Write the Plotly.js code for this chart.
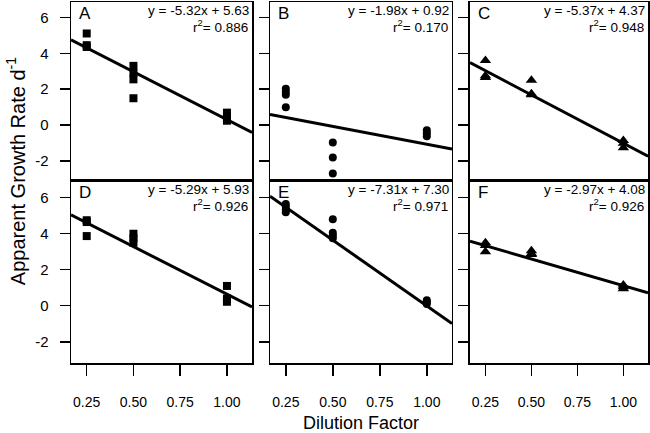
<!DOCTYPE html>
<html><head><meta charset="utf-8">
<script src="https://cdn.plot.ly/plotly-3.0.1.min.js"></script>
<style>html,body{margin:0;padding:0;background:#fff}#chart{width:650px;height:433px}</style>
</head><body><div id="chart"></div>
<script>
// ---- data ----
const panelLabels = ['A', 'B', 'C', 'D', 'E', 'F'];

const dilutionA = [0.25, 0.25, 0.25, 0.5, 0.5, 0.5, 0.5, 1.0, 1.0, 1.0];
const growthA   = [5.10, 4.45, 4.35, 3.30, 2.90, 2.55, 1.50, 0.70, 0.45, 0.25];

const dilutionB = [0.25, 0.25, 0.25, 0.25, 0.5, 0.5, 0.5, 1.0, 1.0, 1.0];
const growthB   = [2.03, 1.85, 1.70, 1.00, -0.96, -1.79, -2.68, -0.28, -0.45, -0.62];

const dilutionC = [0.25, 0.25, 0.25, 0.5, 0.5, 0.5, 1.0, 1.0, 1.0];
const growthC   = [3.60, 2.75, 2.65, 2.50, 1.75, 1.70, -0.85, -1.00, -1.25];

const dilutionD = [0.25, 0.25, 0.25, 0.5, 0.5, 0.5, 1.0, 1.0, 1.0];
const growthD   = [4.75, 4.65, 3.87, 4.00, 3.75, 3.50, 1.10, 0.40, 0.22];

const dilutionE = [0.25, 0.25, 0.25, 0.25, 0.5, 0.5, 0.5, 0.5, 1.0, 1.0, 1.0];
const growthE   = [5.65, 5.50, 5.35, 5.20, 4.80, 4.05, 3.90, 3.75, 0.30, 0.20, 0.10];

const dilutionF = [0.25, 0.25, 0.25, 0.5, 0.5, 0.5, 1.0, 1.0, 1.0];
const growthF   = [3.50, 3.35, 3.00, 3.05, 2.90, 2.85, 1.15, 1.05, 0.95];

const slopes     = [-5.32, -1.98, -5.37, -5.29, -7.31, -2.97];
const intercepts = [5.63, 0.92, 4.37, 5.93, 7.30, 4.08];
const rSquared   = [0.886, 0.170, 0.948, 0.926, 0.971, 0.926];

const xTickVals = [0.25, 0.5, 0.75, 1.0];
const xTickText = ['0.25', '0.50', '0.75', '1.00'];
const yTickVals = [-2, 0, 2, 4, 6];
const yTickText = ['-2', '0', '2', '4', '6'];

const xTitle = 'Dilution Factor';
const yTitle = 'Apparent Growth Rate d<sup>-1</sup>';

// ---- styling / layout ----
const dilutions = [dilutionA, dilutionB, dilutionC, dilutionD, dilutionE, dilutionF];
const growths = [growthA, growthB, growthC, growthD, growthE, growthF];
const symbols = ['square', 'circle', 'triangle-up', 'square', 'circle', 'triangle-up'];
const markerSizes = [8, 8, 10, 8, 8, 10];
const FONT = 'Liberation Sans, Arial, Helvetica, sans-serif';

const xRange = [0.166, 1.134];
const yRanges = [[-3.10, 6.85], [-3.18, 6.93]];
const colDomains = [[0, 0.3137], [0.3449, 0.6603], [0.6915, 1]];
const rowDomains = [[0.5042, 1], [0, 0.5042]];

const traces = [];
const layout = {
  width: 650, height: 433,
  margin: {l: 71, r: 2, t: 2, b: 70},
  paper_bgcolor: '#fff', plot_bgcolor: '#fff',
  showlegend: false,
  font: {family: FONT, color: '#000'},
  annotations: []
};

for (let i = 0; i < 6; i++) {
  const row = i < 3 ? 0 : 1;
  const col = i % 3;
  const xa = 'x' + (i + 1), ya = 'y' + (i + 1);
  const xKey = 'xaxis' + (i === 0 ? '' : i + 1);
  const yKey = 'yaxis' + (i === 0 ? '' : i + 1);

  traces.push({
    type: 'scatter', mode: 'markers', xaxis: xa, yaxis: ya,
    x: dilutions[i], y: growths[i],
    marker: {symbol: symbols[i], size: markerSizes[i], color: '#000'},
    hoverinfo: 'skip'
  });
  traces.push({
    type: 'scatter', mode: 'lines', xaxis: xa, yaxis: ya,
    x: xRange, y: xRange.map(v => slopes[i] * v + intercepts[i]),
    line: {color: '#000', width: 3},
    hoverinfo: 'skip'
  });

  layout[xKey] = {
    domain: colDomains[col], anchor: ya, range: xRange,
    showline: true, mirror: true, linecolor: '#000', linewidth: 1.5,
    showgrid: false, zeroline: false,
    ticks: row === 1 ? 'outside' : '', ticklen: 11, tickwidth: 1.5, tickcolor: '#000',
    tickvals: xTickVals, ticktext: xTickText,
    showticklabels: row === 1,
    ticklabelstandoff: 15,
    tickfont: {size: 14, family: FONT, color: '#000'}
  };
  layout[yKey] = {
    domain: rowDomains[row], anchor: xa, range: yRanges[row],
    showline: true, mirror: true, linecolor: '#000', linewidth: 1.5,
    showgrid: false, zeroline: false,
    ticks: 'outside', ticklen: 10, tickwidth: 1.5, tickcolor: '#000',
    tickvals: yTickVals, ticktext: yTickText,
    showticklabels: col === 0,
    ticklabelstandoff: 8,
    tickfont: {size: 15, family: FONT, color: '#000'}
  };

  layout.annotations.push({
    xref: xa + ' domain', yref: ya + ' domain', x: 0, y: 1,
    xanchor: 'left', yanchor: 'top', xshift: 6, yshift: 0,
    text: panelLabels[i], showarrow: false,
    font: {size: 17, family: FONT, color: '#000'}
  });
  layout.annotations.push({
    xref: xa + ' domain', yref: ya + ' domain', x: 1, y: 1,
    xanchor: 'right', yanchor: 'top', xshift: -1, yshift: 1,
    text: 'y = ' + slopes[i].toFixed(2) + 'x + ' + intercepts[i].toFixed(2),
    showarrow: false,
    font: {size: 13.5, family: FONT, color: '#000'}
  });
  layout.annotations.push({
    xref: xa + ' domain', yref: ya + ' domain', x: 1, y: 1,
    xanchor: 'right', yanchor: 'top', xshift: -2, yshift: -13,
    text: 'r<sup>2</sup>= ' + rSquared[i].toFixed(3),
    showarrow: false,
    font: {size: 13.5, family: FONT, color: '#000'}
  });
}

layout.annotations.push({
  xref: 'paper', yref: 'paper', x: 0.5026, y: -0.1675,
  xanchor: 'center', yanchor: 'middle',
  text: xTitle, showarrow: false,
  font: {size: 18, family: FONT, color: '#000'}
});
layout.annotations.push({
  xref: 'paper', yref: 'paper', x: -0.095, y: 0.532,
  xanchor: 'center', yanchor: 'middle', textangle: -90,
  text: yTitle, showarrow: false,
  font: {size: 20, family: FONT, color: '#000'}
});

Plotly.newPlot('chart', traces, layout, {displayModeBar: false, staticPlot: true});
</script>
</body></html>
